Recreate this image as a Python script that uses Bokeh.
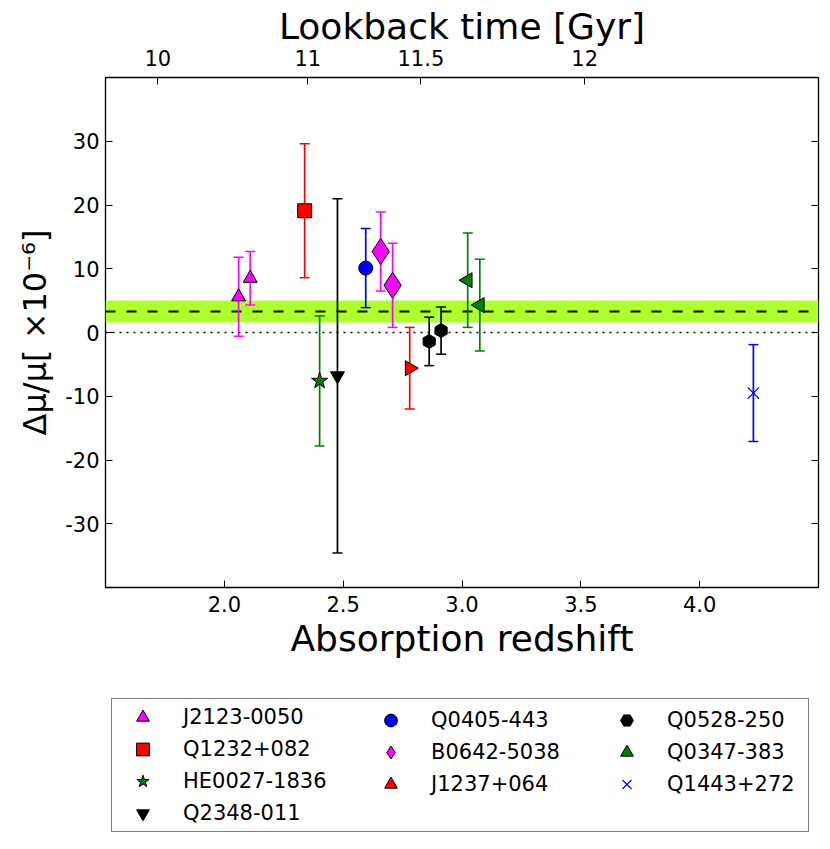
import numpy as np
from bokeh.plotting import figure
from bokeh.layouts import column
from bokeh.models import (ColumnDataSource, LinearAxis, FixedTicker, Range1d, Legend,
                          LegendItem, PrintfTickFormatter)
from bokeh.embed import file_html
from bokeh.resources import INLINE

# ---------------- data ----------------
systems = ["J2123-0050", "Q1232+082", "HE0027-1836", "Q2348-011", "Q0405-443",
           "B0642-5038", "J1237+064", "Q0528-250", "Q0347-383", "Q1443+272"]

point_system = ["J2123-0050", "J2123-0050", "Q1232+082", "HE0027-1836", "Q2348-011",
                "Q0405-443", "B0642-5038", "B0642-5038", "J1237+064", "Q0528-250",
                "Q0528-250", "Q0347-383", "Q0347-383", "Q1443+272"]
z_abs = [2.060, 2.109, 2.338, 2.401, 2.476, 2.595, 2.658, 2.708, 2.780, 2.862,
         2.912, 3.024, 3.075, 4.226]
dmu = [5.6, 8.5, 19.1, -7.6, -6.8, 10.1, 12.7, 7.4, -5.6, -1.4,
       0.3, 8.2, 4.3, -9.5]
dmu_err = [6.2, 4.2, 10.5, 10.2, 27.8, 6.2, 6.2, 6.6, 6.4, 3.8,
           3.7, 7.4, 7.2, 7.6]

mean_dmu = [3.3]
mean_err = [1.7]
zero_level = [0.0]

lookback_labels = ["10", "11", "11.5", "12"]
lookback_z = [1.720, 2.351, 2.827, 3.516]
x_ticks = [2.0, 2.5, 3.0, 3.5, 4.0]
y_ticks = [-30, -20, -10, 0, 10, 20, 30]

# legend columns
legend_columns = [["J2123-0050", "Q1232+082", "HE0027-1836", "Q2348-011"],
                  ["Q0405-443", "B0642-5038", "J1237+064"],
                  ["Q0528-250", "Q0347-383", "Q1443+272"]]

# ---------------- styles ----------------
style = {
    "J2123-0050": dict(color="#ff00ff", marker="triangle", angle=0.0, size=14),
    "Q1232+082": dict(color="#ff0000", marker="square", angle=0.0, size=14),
    "HE0027-1836": dict(color="#007f00", marker="star", angle=0.0, size=17),
    "Q2348-011": dict(color="#000000", marker="inverted_triangle", angle=0.0, size=14),
    "Q0405-443": dict(color="#0000ff", marker="circle", angle=0.0, size=14),
    "B0642-5038": dict(color="#ff00ff", marker="diamond", angle=0.0, size=26),
    "J1237+064": dict(color="#ff0000", marker="triangle", angle=-np.pi / 2, size=15),
    "Q0528-250": dict(color="#000000", marker="hex", angle=np.pi / 2, size=14),
    "Q0347-383": dict(color="#007f00", marker="triangle", angle=np.pi / 2, size=15),
    "Q1443+272": dict(color="#0000ff", marker="x", angle=0.0, size=16),
}

FONT = "DejaVu Sans"
W = 830
H_MAIN = 668
H_LEG = 181

p = figure(width=W, height=H_MAIN, output_backend="svg", toolbar_location=None,
           x_range=Range1d(1.5, 4.5), y_range=Range1d(-40, 40),
           min_border_left=105, min_border_right=12, min_border_top=77,
           min_border_bottom=81)
p.xgrid.visible = False
p.ygrid.visible = False
p.background_fill_color = "white"
p.border_fill_color = "white"
p.outline_line_color = "black"
p.outline_line_width = 1.3
p.outline_line_alpha = 1.0

# band, mean and zero lines
p.hstrip(y0=[m - e for m, e in zip(mean_dmu, mean_err)],
         y1=[m + e for m, e in zip(mean_dmu, mean_err)],
         fill_color="#adff2f", line_color=None)
p.hspan(y=mean_dmu, line_color="black", line_width=2, line_dash="10 11")
p.hspan(y=zero_level, line_color="black", line_width=1.5, line_dash="2 5")

sources = {}
for name in systems:
    idx = [i for i, s in enumerate(point_system) if s == name]
    zz = [z_abs[i] for i in idx]
    yy = [dmu[i] for i in idx]
    ee = [dmu_err[i] for i in idx]
    src = ColumnDataSource(dict(z=zz, y=yy,
                                lo=[a - b for a, b in zip(yy, ee)],
                                hi=[a + b for a, b in zip(yy, ee)]))
    sources[name] = src
    st = style[name]
    p.segment(x0="z", y0="lo", x1="z", y1="hi", source=src,
              line_color=st["color"], line_width=1.7)
    p.scatter(x="z", y="lo", source=src, marker="dash", size=10,
              line_color=st["color"], line_width=1.5)
    p.scatter(x="z", y="hi", source=src, marker="dash", size=10,
              line_color=st["color"], line_width=1.5)


def add_marker(fig, name, **kw):
    st = style[name]
    src = sources[name]
    if st["marker"] == "x":
        return fig.scatter(x="z", y="y", source=src, marker="x", size=st["size"],
                           line_color=st["color"], line_width=1.2, **kw)
    return fig.scatter(x="z", y="y", source=src, marker=st["marker"], size=st["size"],
                       angle=st["angle"], fill_color=st["color"],
                       line_color="black", line_width=1, **kw)


for name in systems:
    add_marker(p, name)

# ---------------- axes ----------------
def style_axis(ax, label_size="21px"):
    ax.axis_line_color = None
    ax.major_tick_in = 7
    ax.major_tick_out = 0
    ax.minor_tick_line_color = None
    ax.major_tick_line_color = "black"
    ax.major_tick_line_width = 1
    ax.major_label_text_font = FONT
    ax.major_label_text_font_size = label_size
    ax.major_label_text_color = "black"
    ax.axis_label_text_font = FONT
    ax.axis_label_text_font_style = "normal"
    ax.axis_label_text_color = "black"

xa = p.xaxis[0]
xa.ticker = FixedTicker(ticks=x_ticks)
xa.formatter = PrintfTickFormatter(format="%.1f")
style_axis(xa)
xa.axis_label = "Absorption redshift"
xa.axis_label_text_font_size = "36px"
xa.major_label_standoff = 8
xa.axis_label_standoff = 3

ya = p.yaxis[0]
ya.ticker = FixedTicker(ticks=y_ticks)
ya.formatter = PrintfTickFormatter(format="%d")
style_axis(ya)
ya.axis_label = "Δμ/μ[ ×10⁻⁶]"
ya.axis_label_text_font_size = "32px"
ya.major_label_standoff = 6
ya.axis_label_standoff = 8

top = LinearAxis(ticker=FixedTicker(ticks=lookback_z),
                 major_label_overrides={z: s for z, s in zip(lookback_z, lookback_labels)},
                 axis_label="Lookback time [Gyr]")
style_axis(top)
top.axis_label_text_font_size = "36px"
top.major_label_standoff = 12
top.axis_label_standoff = 0
p.add_layout(top, "above")

right = LinearAxis(ticker=FixedTicker(ticks=y_ticks))
style_axis(right, label_size="0px")
right.major_label_text_color = None
right.major_label_standoff = 0
p.add_layout(right, "right")

# ---------------- legend (own strip below the plot, frame-aligned) ----------------
pl = figure(width=W, height=H_LEG, output_backend="svg", toolbar_location=None,
            x_range=p.x_range, y_range=p.y_range,
            x_axis_location=None, y_axis_location=None, min_border=0)
pl.grid.visible = False
pl.outline_line_color = None
pl.background_fill_color = "white"
pl.border_fill_color = "white"

leg_renderers = {n: add_marker(pl, n, visible=False) for n in systems}

common = dict(orientation="vertical", padding=2, spacing=0, margin=0,
              glyph_width=57, glyph_height=32, label_standoff=12, label_height=32,
              label_text_font=FONT, label_text_font_size="21px",
              label_text_color="black")
# first column carries the frame of the whole legend box
legend_specs = [dict(location=(6, 17), label_width=623,
                     border_line_color="black", border_line_width=1.3,
                     background_fill_color="white", background_fill_alpha=1.0),
                dict(location=(257, 49), label_width=20,
                     border_line_color=None, background_fill_alpha=0.0),
                dict(location=(493, 49), label_width=20,
                     border_line_color=None, background_fill_alpha=0.0)]
for names, spec in zip(legend_columns, legend_specs):
    items = [LegendItem(label=n, renderers=[leg_renderers[n]]) for n in names]
    pl.add_layout(Legend(items=items, **common, **spec))

open("out.html", "w").write(file_html(column(p, pl, spacing=0), INLINE))
